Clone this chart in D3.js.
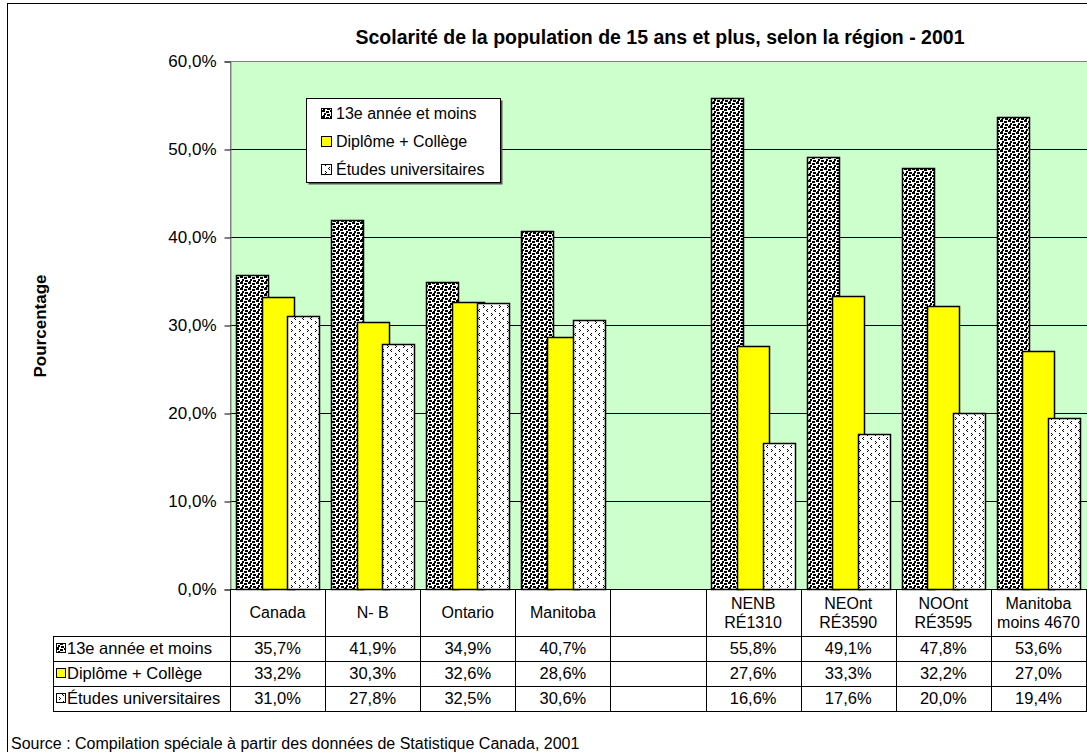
<!DOCTYPE html>
<html>
<head>
<meta charset="utf-8">
<script src="https://cdn.jsdelivr.net/npm/d3@7"></script>
<style>
  body { margin: 0; background: #fff; }
  svg text { font-family: Arial, "Liberation Sans", sans-serif; fill: #000; }
</style>
</head>
<body>
<div id="chart"></div>
<script>
// Chart data
const categories = ["Canada", "N- B", "Ontario", "Manitoba", "", "NENB|RÉ1310", "NEOnt|RÉ3590", "NOOnt|RÉ3595", "Manitoba|moins 4670"];
const seriesNames = ["13e année et moins", "Diplôme + Collège", "Études universitaires"];
const secondaire = [35.7, 41.9, 34.9, 40.7, null, 55.8, 49.1, 47.8, 53.6];
const college = [33.2, 30.3, 32.6, 28.6, null, 27.6, 33.3, 32.2, 27.0];
const universite = [31.0, 27.8, 32.5, 30.6, null, 16.6, 17.6, 20.0, 19.4];
const yTicks = [0, 10, 20, 30, 40, 50, 60];

const seriesValues = [secondaire, college, universite];
const fills = ["url(#confetti)", "#ffff00", "url(#divot)"];

const width = 1087;
const height = 752;

const svg = d3.select("#chart").append("svg")
  .attr("width", width)
  .attr("height", height);

// Fill patterns
const defs = svg.append("defs");
const confetti = defs.append("pattern")
  .attr("id", "confetti")
  .attr("patternUnits", "userSpaceOnUse")
  .attr("width", 8).attr("height", 6);
confetti.append("rect").attr("width", 8).attr("height", 6).attr("fill", "#fff");
[[0, 0, 3, 2], [4, 1, 3, 2], [2, 3, 2, 2], [5, 4, 3, 2], [1, 5, 2, 1]].forEach(([px, py, w, h]) => {
  confetti.append("rect").attr("x", px).attr("y", py)
    .attr("width", w).attr("height", h).attr("fill", "#000");
});

const divot = defs.append("pattern")
  .attr("id", "divot")
  .attr("patternUnits", "userSpaceOnUse")
  .attr("width", 8).attr("height", 8);
divot.append("rect").attr("width", 8).attr("height", 8).attr("fill", "#fff");
[[3, 1], [4, 2], [3, 3], [7, 5], [6, 6], [7, 7]].forEach(([px, py]) => {
  divot.append("rect").attr("x", px).attr("y", py)
    .attr("width", 1).attr("height", 1).attr("fill", "#000");
});

// Outer chart border
svg.append("rect")
  .attr("x", 7.5).attr("y", 3.5)
  .attr("width", 1100).attr("height", 780)
  .attr("fill", "#fff").attr("stroke", "#000");

// Plot area
const plot = { left: 230, right: 1086, top: 61, bottom: 589 };

const x = d3.scaleBand()
  .domain(categories)
  .range([plot.left, plot.right])
  .padding(0);

const y = d3.scaleLinear()
  .domain([0, 60])
  .range([plot.bottom, plot.top]);

svg.append("rect")
  .attr("x", plot.left + 0.5).attr("y", plot.top + 0.5)
  .attr("width", plot.right - plot.left + 10)
  .attr("height", plot.bottom - plot.top)
  .attr("fill", "#ccffcc")
  .attr("stroke", "#808080");

// Gridlines
svg.append("g")
  .selectAll("line")
  .data(yTicks.filter((d) => d > 0 && d < 60))
  .enter()
  .append("line")
  .attr("x1", plot.left).attr("x2", width)
  .attr("y1", (d) => Math.round(y(d)) + 0.5)
  .attr("y2", (d) => Math.round(y(d)) + 0.5)
  .attr("stroke", "#000");

// Y axis
const yAxis = svg.append("g")
  .attr("transform", `translate(${plot.left + 0.5},0.5)`)
  .call(d3.axisLeft(y)
    .tickValues(yTicks)
    .tickSize(6)
    .tickPadding(8)
    .tickFormat((d) => d3.format(".1f")(d).replace(".", ",") + "%"));
yAxis.select(".domain").attr("stroke", "#808080");
yAxis.selectAll(".tick line").attr("stroke", "#000");
yAxis.selectAll("text")
  .style("font-size", "17px")
  .style("font-family", "Arial, 'Liberation Sans', sans-serif");

// Bars
const bw = x.bandwidth();
const barW = bw * 0.337;
const step = barW * 0.8;
const offset = (bw - (2 * step + barW)) / 2;

seriesValues.forEach((vals, s) => {
  svg.append("g")
    .selectAll("rect")
    .data(categories.map((c, i) => ({ c, v: vals[i] })).filter((d) => d.v !== null))
    .enter()
    .append("rect")
    .attr("x", (d) => Math.round(x(d.c) + offset + s * step) + 0.5)
    .attr("y", (d) => Math.round(y(d.v)) + 0.5)
    .attr("width", Math.round(barW))
    .attr("height", (d) => Math.round(y(0)) - Math.round(y(d.v)))
    .attr("fill", fills[s])
    .attr("stroke", "#000")
    .attr("stroke-width", 1.5);
});

// Data table
const rowTops = [636, 661, 686, 711];
const tableLeft = 53;
const table = svg.append("g").attr("shape-rendering", "crispEdges");

// Category header row
table.append("line")
  .attr("x1", plot.left).attr("x2", width)
  .attr("y1", plot.bottom + 0.5).attr("y2", plot.bottom + 0.5)
  .attr("stroke", "#000");
categories.concat(["end"]).forEach((c, i) => {
  const xx = i < categories.length ? x(c) : plot.right;
  table.append("line")
    .attr("x1", Math.round(xx) + 0.5).attr("x2", Math.round(xx) + 0.5)
    .attr("y1", plot.bottom).attr("y2", rowTops[3])
    .attr("stroke", "#000");
});
// Row lines
rowTops.forEach((ry) => {
  table.append("line")
    .attr("x1", tableLeft).attr("x2", width)
    .attr("y1", ry + 0.5).attr("y2", ry + 0.5)
    .attr("stroke", "#000");
});
table.append("line")
  .attr("x1", tableLeft + 0.5).attr("x2", tableLeft + 0.5)
  .attr("y1", rowTops[0]).attr("y2", rowTops[3])
  .attr("stroke", "#000");

// Category labels
categories.forEach((c) => {
  const lines = c.split("|");
  const cx = x(c) + bw / 2;
  const t = svg.append("text")
    .attr("text-anchor", "middle")
    .style("font-size", "16px");
  if (lines.length === 1) {
    t.attr("x", cx).attr("y", 618).text(lines[0]);
  } else {
    lines.forEach((ln, k) => {
      t.append("tspan").attr("x", cx).attr("y", 609 + k * 19).text(ln);
    });
  }
});

// Row labels and values
const fmt = (v) => d3.format(".1f")(v).replace(".", ",") + "%";
seriesNames.forEach((name, s) => {
  const ry = rowTops[s];
  svg.append("rect")
    .attr("x", 56.5).attr("y", ry + 7.5)
    .attr("width", 9).attr("height", 9)
    .attr("fill", fills[s]).attr("stroke", "#000");
  svg.append("text")
    .attr("x", 67).attr("y", ry + 18)
    .style("font-size", "16.5px")
    .text(name);
  seriesValues[s].forEach((v, i) => {
    if (v === null) return;
    svg.append("text")
      .attr("x", x(categories[i]) + bw / 2)
      .attr("y", ry + 18)
      .attr("text-anchor", "middle")
      .style("font-size", "16.5px")
      .text(fmt(v));
  });
});

// Legend
const legend = svg.append("g").attr("transform", "translate(306,98)");
legend.append("rect")
  .attr("x", 2.5).attr("y", 2.5).attr("width", 194).attr("height", 84)
  .attr("fill", "#555");
legend.append("rect")
  .attr("x", 0.5).attr("y", 0.5).attr("width", 194).attr("height", 84)
  .attr("fill", "#fff").attr("stroke", "#000");
seriesNames.forEach((name, s) => {
  const cy = 15 + s * 28;
  legend.append("rect")
    .attr("x", 15.5).attr("y", cy - 4.5)
    .attr("width", 10).attr("height", 10)
    .attr("fill", fills[s]).attr("stroke", "#000");
  legend.append("text")
    .attr("x", 30).attr("y", cy + 6)
    .style("font-size", "16px")
    .text(name);
});

// Title
svg.append("text")
  .attr("x", 660).attr("y", 44)
  .attr("text-anchor", "middle")
  .style("font-size", "19.5px")
  .style("font-weight", "bold")
  .text("Scolarité de la population de 15 ans et plus, selon la région - 2001");

// Y axis title
svg.append("text")
  .attr("transform", "translate(46,326) rotate(-90)")
  .attr("text-anchor", "middle")
  .style("font-size", "17px")
  .style("font-weight", "bold")
  .text("Pourcentage");

// Source
svg.append("text")
  .attr("x", 11).attr("y", 749)
  .style("font-size", "16px")
  .text("Source : Compilation spéciale à partir des données de Statistique Canada, 2001");
</script>
</body>
</html>
